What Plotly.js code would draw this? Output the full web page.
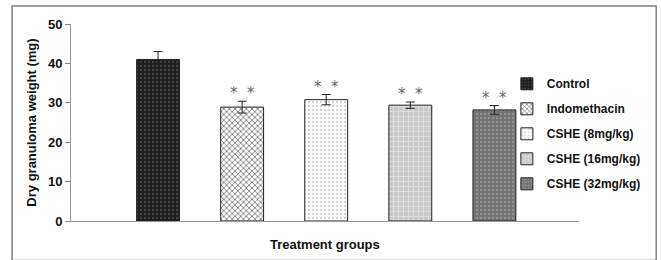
<!DOCTYPE html>
<html><head><meta charset="utf-8">
<script src="https://cdn.plot.ly/plotly-3.0.1.min.js"></script>
<style>body{margin:0;background:#fff}#c{width:661px;height:260px}</style>
</head><body><div id="c"></div>
<script>
const categories = ["Control", "Indomethacin", "CSHE (8mg/kg)", "CSHE (16mg/kg)", "CSHE (32mg/kg)"];
const values = [41.0, 28.9, 30.8, 29.4, 28.2];
const errors = [2.0, 1.5, 1.3, 0.8, 1.1];
const signif = ["", "* *", "* *", "* *", "* *"];
const yTicks = [0, 10, 20, 30, 40, 50];

const patterns = [
  {shape: ".", bgcolor: "#1e1e1e", fgcolor: "#444444", size: 4, solidity: 0.25},
  {shape: "x", bgcolor: "#ffffff", fgcolor: "#666666", size: 4, solidity: 0.35},
  {shape: ".", bgcolor: "#ffffff", fgcolor: "#c4c4c4", size: 4, solidity: 0.2},
  {shape: "+", bgcolor: "#c8c8c8", fgcolor: "#e6e6e6", size: 5, solidity: 0.25},
  {shape: ".", bgcolor: "#737373", fgcolor: "#959595", size: 4, solidity: 0.25}
];

const traces = categories.map((c, i) => ({
  type: "bar",
  name: c,
  x: [c],
  y: [values[i]],
  width: 0.51,
  legendgroup: "g" + i,
  marker: {color: patterns[i].bgcolor, pattern: patterns[i], line: {color: "#222", width: 1}},
  error_y: {type: "data", array: [errors[i]], visible: true, color: "#222", thickness: 1, width: 4.5}
}));

const annotations = categories.map((c, i) => signif[i] ? {
  x: c, y: values[i] + errors[i], xref: "x", yref: "y",
  text: signif[i].replace(" ", "  "), showarrow: false, yanchor: "bottom", yshift: -3,
  font: {family: "DejaVu Sans", size: 15, color: "#666666"}
} : null).filter(a => a);

annotations.push({
  text: "Treatment groups", xref: "paper", yref: "paper", x: 0.5, y: -0.117,
  yanchor: "middle", showarrow: false,
  font: {family: "Liberation Sans, Arial", size: 13, color: "#111", weight: "bold"}
});

const layout = {
  width: 661, height: 260,
  margin: {l: 71, r: 82, t: 24, b: 39},
  paper_bgcolor: "#fff", plot_bgcolor: "#fff",
  barmode: "overlay",
  showlegend: true,
  font: {family: "Liberation Sans, Arial", color: "#111"},
  xaxis: {
    type: "category", categoryorder: "array", categoryarray: categories,
    range: [-1.035, 5.006], showticklabels: false, ticks: "",
    showline: true, linecolor: "#999", linewidth: 1, showgrid: false, zeroline: false, fixedrange: true
  },
  yaxis: {
    range: [0, 50], tickvals: yTicks, ticks: "outside", ticklen: 5, tickcolor: "#888",
    showline: true, linecolor: "#999", linewidth: 1, showgrid: false, zeroline: false,
    tickfont: {family: "Liberation Sans, Arial", size: 13, color: "#111", weight: "bold"},
    title: {text: "Dry granuloma weight (mg)", standoff: 8,
      font: {family: "Liberation Sans, Arial", size: 13, color: "#111", weight: "bold"}}
  },
  legend: {
    x: 0.858, xanchor: "left", y: 0.77, yanchor: "top",
    font: {family: "Liberation Sans, Arial", size: 12, color: "#111", weight: "bold"},
    tracegroupgap: 6, itemwidth: 30, bgcolor: "rgba(0,0,0,0)"
  },
  annotations: annotations,
  shapes: [{
    type: "rect", xref: "paper", yref: "paper",
    x0: -0.116, x1: 1.152, y0: -0.2, y1: 1.091,
    line: {color: "#808080", width: 1.5}, fillcolor: "rgba(0,0,0,0)", layer: "below"
  }]
};

Plotly.newPlot("c", traces, layout, {displayModeBar: false, staticPlot: true});
</script></body></html>
